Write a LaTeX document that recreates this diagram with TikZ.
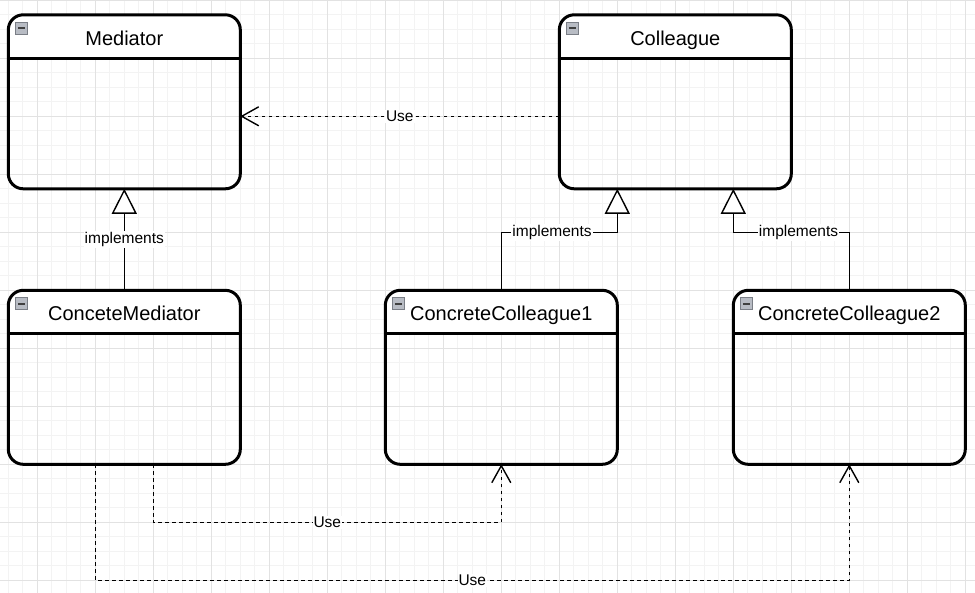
\documentclass[tikz,border=0pt]{standalone}
\usepackage{fontspec}
\setmainfont{Liberation Sans}
\usetikzlibrary{arrows.meta,calc}
\definecolor{minorc}{HTML}{F3F3F3}
\definecolor{majorc}{HTML}{E2E2E2}
\definecolor{iconfill}{HTML}{B8BCC4}
\definecolor{iconline}{HTML}{7A7E86}
\begin{document}
\begin{tikzpicture}[x=1pt,y=-1pt,
  minorgrid/.style={draw=minorc, line width=1pt},
  majorgrid/.style={draw=majorc, line width=1pt},
  classbox/.style={draw=black, line width=3pt, rounded corners=15pt,
    minimum width=232pt, minimum height=174pt, inner sep=0pt, outer sep=0pt,
    path picture={
      \fill[white] (path picture bounding box.north west) rectangle
        ([yshift=-43.5pt]path picture bounding box.north east);
      \draw[black, line width=3pt] ([yshift=-43.5pt]path picture bounding box.north west) --
        ([yshift=-43.5pt]path picture bounding box.north east);
    }},
  titletext/.style={inner sep=0pt, anchor=base, font=\fontsize{20pt}{24pt}\selectfont},
  iconbox/.style={draw=iconline, fill=iconfill, line width=1pt, minimum size=12pt, inner sep=0pt,
    path picture={\draw[black!75, line width=1.6pt]
      ([xshift=2.5pt]path picture bounding box.west) -- ([xshift=-2.5pt]path picture bounding box.east);}},
  lbl/.style={fill=white, inner sep=1pt, font=\fontsize{15.5pt}{18pt}\selectfont},
  usedash/.style={draw=black, line width=1.4pt, dash pattern=on 3.5pt off 3.5pt,
    -{Straight Barb[length=17pt, width=19pt, line width=1.4pt]}},
  impl/.style={draw=black, line width=1.4pt,
    -{Triangle[length=25pt, width=25pt, fill=white, line width=1.4pt]}}
]
\useasboundingbox (0,0) rectangle (975,593);
\fill[white] (0,0) rectangle (975,593);
% grid
\foreach \i in {0,...,66} \draw[minorgrid] ({8.3+14.5*\i},0) -- ({8.3+14.5*\i},593);
\foreach \j in {0,...,40} \draw[minorgrid] (0,{0.3+14.5*\j}) -- (975,{0.3+14.5*\j});
\foreach \i in {0,...,16} \draw[majorgrid] ({37.3+58*\i},0) -- ({37.3+58*\i},593);
\foreach \j in {0,...,10} \draw[majorgrid] (0,{0.3+58*\j}) -- (975,{0.3+58*\j});

% class boxes
\node[classbox] (med) at (124.3,101.8) {};
\node[classbox] (col) at (675.3,101.8) {};
\node[classbox] (cm)  at (124.3,377.3) {};
\node[classbox] (cc1) at (501.3,377.3) {};
\node[classbox] (cc2) at (849.3,377.3) {};

\node[titletext] (medT) at ($(med.north)+(0,30.5)$) {Mediator};
\node[titletext] (colT) at ($(col.north)+(0,30.5)$) {Colleague};
\node[titletext] (cmT)  at ($(cm.north)+(0,30.5)$) {ConceteMediator};
\node[titletext] (cc1T) at ($(cc1.north)+(0,30.5)$) {ConcreteColleague1};
\node[titletext] (cc2T) at ($(cc2.north)+(0,30.5)$) {ConcreteColleague2};

\node[iconbox] (medI) at ($(med.north west)+(13,13.5)$) {};
\node[iconbox] (colI) at ($(col.north west)+(13,13.5)$) {};
\node[iconbox] (cmI)  at ($(cm.north west)+(13,13.5)$) {};
\node[iconbox] (cc1I) at ($(cc1.north west)+(13,13.5)$) {};
\node[iconbox] (cc2I) at ($(cc2.north west)+(13,13.5)$) {};

% Colleague uses Mediator
\draw[usedash] ($(col.west)+(0,14.5)$) -- node[lbl] (u0) {Use} ($(med.east)+(0,14.5)$);

% implements
\draw[impl] (cm.north) -- node[lbl] (i0) {implements} (med.south);

\coordinate (b1) at ($(col.south west)+(58,43.5)$);
\coordinate (t1) at ($(col.south west)+(58,0)$);
\draw[impl] (cc1.north) -- (cc1.north |- b1) -- node[lbl, pos=0.4375] (i1) {implements} (b1) -- (t1);

\coordinate (b2) at ($(col.south west)+(174,43.5)$);
\coordinate (t2) at ($(col.south west)+(174,0)$);
\draw[impl] (cc2.north) -- (cc2.north |- b2) -- node[lbl, pos=0.4375] (i2) {implements} (b2) -- (t2);

% ConceteMediator uses ConcreteColleagues
\coordinate (s1) at ($(cm.south west)+(145,0)$);
\coordinate (h1) at ($(cm.south west)+(145,58)$);
\draw[usedash] (s1) -- (h1) -- node[lbl] (u1) {Use} (h1 -| cc1.south) -- (cc1.south);

\coordinate (s2) at ($(cm.south west)+(87,0)$);
\coordinate (h2) at ($(cm.south west)+(87,116)$);
\draw[usedash] (s2) -- (h2) -- node[lbl] (u2) {Use} (h2 -| cc2.south) -- (cc2.south);
\end{tikzpicture}
\end{document}
